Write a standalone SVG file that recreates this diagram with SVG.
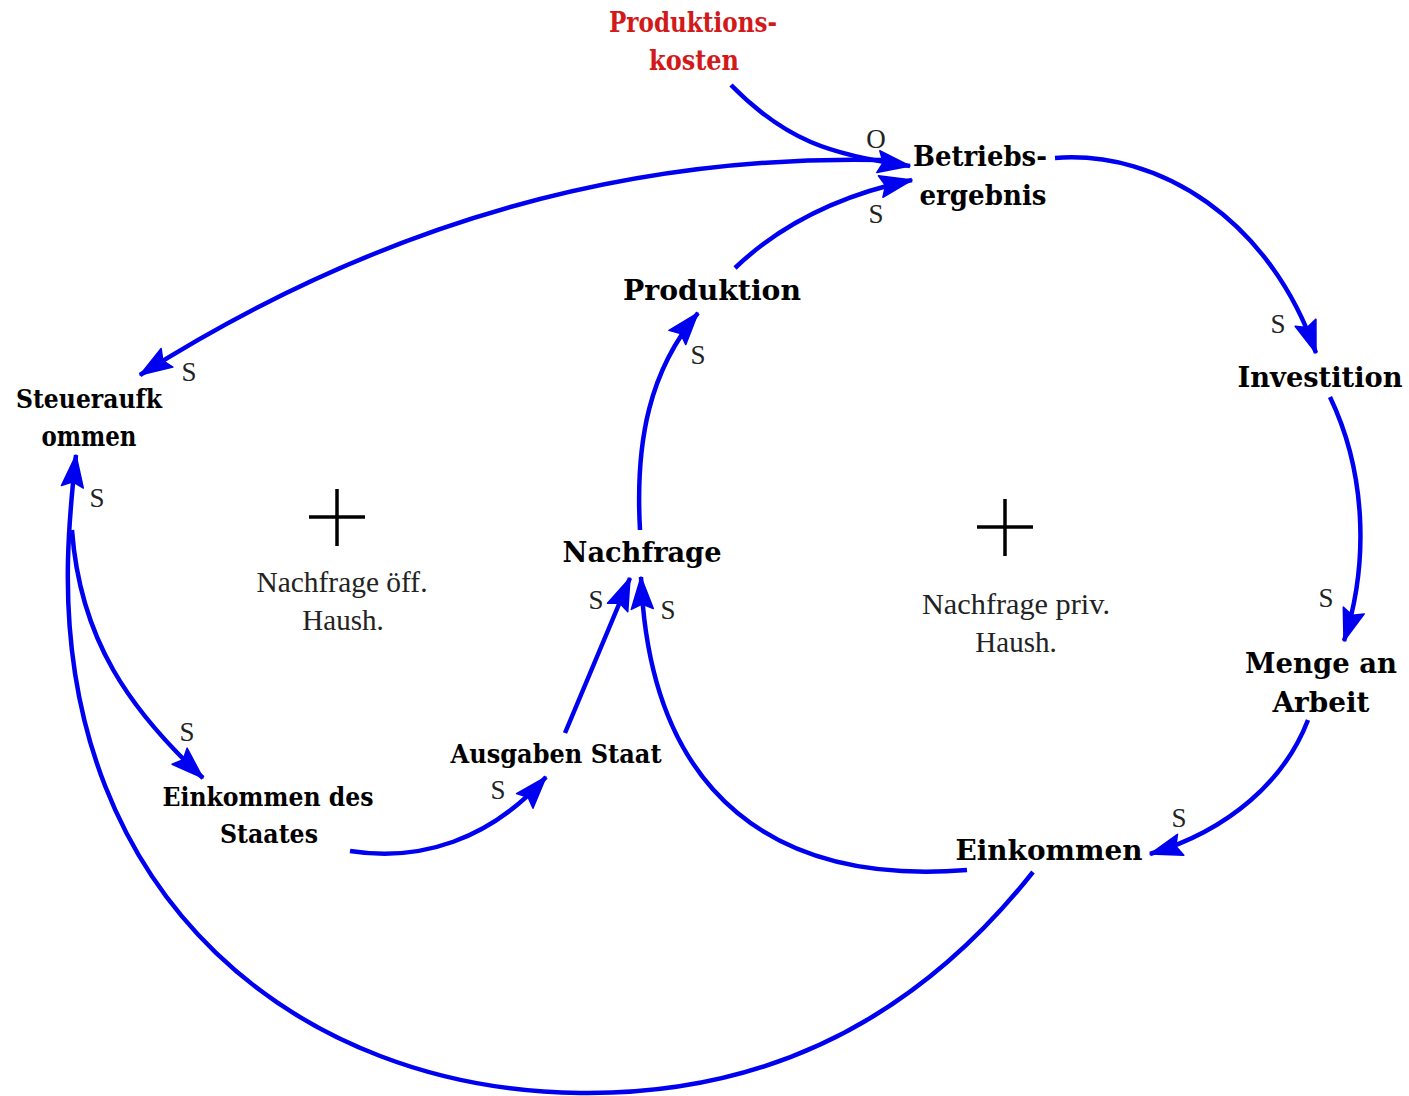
<svg xmlns="http://www.w3.org/2000/svg" width="1409" height="1096" viewBox="0 0 1409 1096">
<style>
.n{font-family:"DejaVu Serif","Liberation Serif",serif;font-weight:bold;font-size:28px;fill:#000;text-anchor:middle}
.m{font-family:"DejaVu Serif","Liberation Serif",serif;font-weight:bold;font-size:26px;fill:#000;text-anchor:middle}
.r{fill:#d21a1a}
.t{font-family:"Liberation Serif","DejaVu Serif",serif;font-size:29px;fill:#222;text-anchor:middle}
.s{font-family:"Liberation Serif","DejaVu Serif",serif;font-size:27px;fill:#222;text-anchor:middle}
.c{fill:none;stroke:#0000f0;stroke-width:4.5;stroke-linecap:butt}
.plus{stroke:#000;stroke-width:3.5}
</style>
<defs>
<marker id="ah" markerUnits="userSpaceOnUse" markerWidth="40" markerHeight="30" viewBox="-36 -15 40 30" refX="0" refY="0" orient="auto">
<path d="M0,0 L-32,-11 L-27,0 L-32,11 Z" fill="#0000f0" stroke="#0000f0" stroke-width="1.5" stroke-linejoin="round"/>
</marker>
</defs>
<rect width="1409" height="1096" fill="#fff"/>
<g id="connectors">
<path class="c" d="M731,85 C785,140 830,155 910,166" marker-end="url(#ah)"/>
<path class="c" d="M882,160 C650,155 400,210 140,375" marker-end="url(#ah)"/>
<path class="c" d="M735,268 C780,225 840,195 912,180" marker-end="url(#ah)"/>
<path class="c" d="M640,530 C635,440 650,370 698,313" marker-end="url(#ah)"/>
<path class="c" d="M1055,158 C1160,150 1270,220 1316,353" marker-end="url(#ah)"/>
<path class="c" d="M1330,397 C1365,470 1370,560 1344,641" marker-end="url(#ah)"/>
<path class="c" d="M1308,720 C1285,780 1230,830 1150,854" marker-end="url(#ah)"/>
<path class="c" d="M967,870 C780,885 650,800 641,577" marker-end="url(#ah)"/>
<path class="c" d="M1033,872 C900,1040 740,1095 580,1093 C300,1090 60,900 68,560 C69,520 72,490 76,455" marker-end="url(#ah)"/>
<path class="c" d="M72,530 C80,640 130,710 203,778" marker-end="url(#ah)"/>
<path class="c" d="M350,851 C420,862 490,840 546,777" marker-end="url(#ah)"/>
<path class="c" d="M565,733 L630,578" marker-end="url(#ah)"/>
</g>
<g id="produktionskosten"><text class="n r" x="693" y="32" textLength="168" lengthAdjust="spacingAndGlyphs">Produktions-</text><text class="n r" x="694" y="70" textLength="90" lengthAdjust="spacingAndGlyphs">kosten</text></g>
<g id="betriebsergebnis"><text class="n" x="980" y="166" textLength="134" lengthAdjust="spacingAndGlyphs">Betriebs-</text><text class="n" x="983" y="205" textLength="127" lengthAdjust="spacingAndGlyphs">ergebnis</text></g>
<g id="produktion"><text class="n" x="712" y="300" textLength="178" lengthAdjust="spacingAndGlyphs">Produktion</text></g>
<g id="investition"><text class="n" x="1320" y="387" textLength="165" lengthAdjust="spacingAndGlyphs">Investition</text></g>
<g id="steueraufkommen"><text class="n" x="89" y="408" style="font-size:26px" textLength="146" lengthAdjust="spacingAndGlyphs">Steueraufk</text><text class="n" x="89" y="446" textLength="95" lengthAdjust="spacingAndGlyphs">ommen</text></g>
<g id="nachfrage"><text class="n" x="642" y="562" textLength="159" lengthAdjust="spacingAndGlyphs">Nachfrage</text></g>
<g id="menge"><text class="n" x="1321" y="673" textLength="152" lengthAdjust="spacingAndGlyphs">Menge an</text><text class="n" x="1321" y="712" textLength="97" lengthAdjust="spacingAndGlyphs">Arbeit</text></g>
<g id="einkommen"><text class="n" x="1049" y="860" textLength="187" lengthAdjust="spacingAndGlyphs">Einkommen</text></g>
<g id="ausgaben"><text class="m" x="556" y="763" textLength="211" lengthAdjust="spacingAndGlyphs">Ausgaben Staat</text></g>
<g id="einkommenstaat"><text class="m" x="268" y="806" textLength="211" lengthAdjust="spacingAndGlyphs">Einkommen des</text><text class="m" x="269" y="843" textLength="98" lengthAdjust="spacingAndGlyphs">Staates</text></g>
<g id="loop-oeff">
<line class="plus" x1="309" y1="517" x2="365" y2="517"/><line class="plus" x1="337" y1="489" x2="337" y2="546"/>
<text class="t" x="342" y="592" textLength="171" lengthAdjust="spacingAndGlyphs">Nachfrage öff.</text><text class="t" x="343" y="630">Haush.</text>
</g>
<g id="loop-priv">
<line class="plus" x1="977" y1="527" x2="1033" y2="527"/><line class="plus" x1="1005" y1="499" x2="1005" y2="556"/>
<text class="t" x="1016" y="614" textLength="188" lengthAdjust="spacingAndGlyphs">Nachfrage priv.</text><text class="t" x="1016" y="652">Haush.</text>
</g>
<g id="polarities">
<text class="s" x="876" y="148">O</text>
<text class="s" x="876" y="223">S</text>
<text class="s" x="1278" y="333">S</text>
<text class="s" x="1326" y="607">S</text>
<text class="s" x="1179" y="827">S</text>
<text class="s" x="189" y="381">S</text>
<text class="s" x="97" y="507">S</text>
<text class="s" x="187" y="741">S</text>
<text class="s" x="498" y="799">S</text>
<text class="s" x="596" y="609">S</text>
<text class="s" x="668" y="619">S</text>
<text class="s" x="698" y="364">S</text>
</g>
</svg>
